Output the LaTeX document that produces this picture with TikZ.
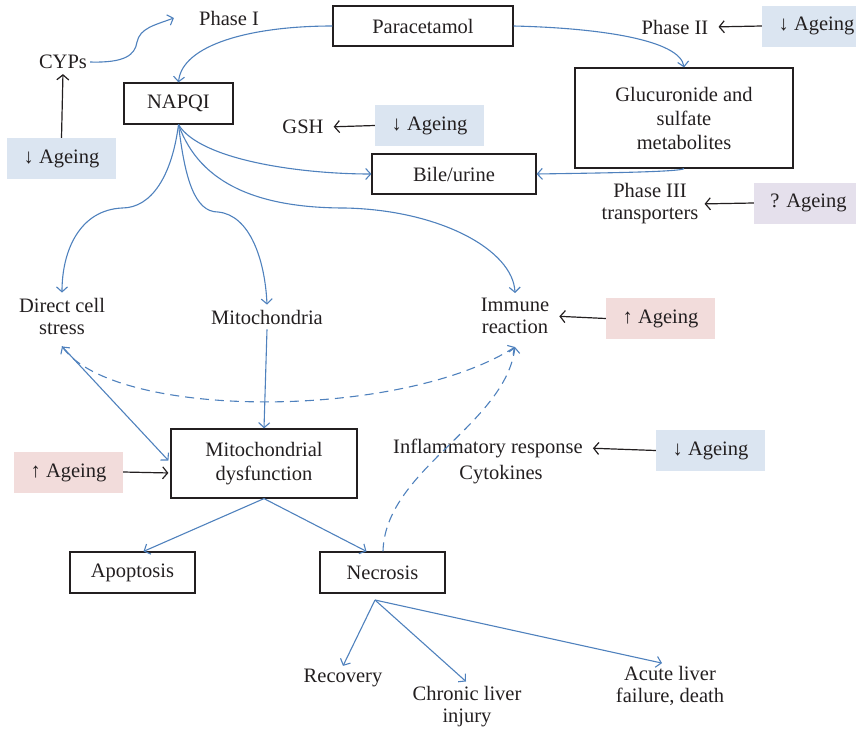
\documentclass[tikz,border=0pt]{standalone}
\usepackage{fontspec}
\setmainfont{Liberation Serif}
\usetikzlibrary{arrows.meta}
\definecolor{lblue}{HTML}{4F81BD}
\definecolor{boxblue}{HTML}{DBE5F1}
\definecolor{boxpink}{HTML}{F2DCDB}
\definecolor{boxlav}{HTML}{E5E0EC}
\definecolor{ink}{HTML}{231F20}
\newcommand{\fsA}{\fontsize{20.5}{22}\selectfont}
\newcommand{\fsB}{\fontsize{20.5}{24}\selectfont}
\tikzset{
  every node/.style={font=\fsA, text=ink, inner sep=3pt},
  stepbox/.style={draw=ink, line width=1.2pt, minimum width=#1, font=\fsB, align=center, inner sep=0pt},
  agebox/.style={fill=#1, minimum width=109pt, minimum height=41pt, inner sep=0pt},
  flow/.style={draw=lblue, line width=1.1pt, -{Straight Barb[length=5pt,width=11pt,line width=1.1pt]}},
  flowb/.style={draw=lblue, line width=1.1pt, dashed, dash pattern=on 9pt off 6pt, {Straight Barb[length=5pt,width=11pt,line width=1.1pt]}-{Straight Barb[length=5pt,width=11pt,line width=1.1pt]}},
  flowd/.style={draw=lblue, line width=1.1pt, dash pattern=on 9pt off 6pt, -{Straight Barb[length=5pt,width=11pt,line width=1.1pt]}},
  inh/.style={draw=ink, line width=1.2pt, shorten >=7pt, -{Straight Barb[length=5pt,width=12pt,line width=1.2pt]}},
}
\begin{document}
\begin{tikzpicture}[x=1pt,y=-1pt]
\useasboundingbox (0,0) rectangle (856,731);
% boxes
\node[stepbox=180pt, minimum height=40pt] (par) at (423,26) {Paracetamol};
\node[stepbox=109pt, minimum height=41pt] (napqi) at (178.5,103.5) {NAPQI};
\node[stepbox=164pt, minimum height=40pt] (bile) at (454,174) {Bile/urine};
\node[stepbox=218pt, minimum height=100pt] (glu) at (684,118) {Glucuronide and\\sulfate\\metabolites};
\node[stepbox=186pt, minimum height=69pt] (mdf) at (264,463.5) {Mitochondrial\\dysfunction};
\node[stepbox=125pt, minimum height=41pt] (apo) at (132.5,572.5) {Apoptosis};
\node[stepbox=125pt, minimum height=41pt] (nec) at (382.5,572.5) {Necrosis};
% ageing boxes
\node[agebox=boxblue] (ageA) at (816.5,26) {\char"2193\ Ageing};
\node[agebox=boxblue] (ageB) at (61.5,158.5) {\char"2193\ Ageing};
\node[agebox=boxblue] (ageC) at (429.5,125.5) {\char"2193\ Ageing};
\node[agebox=boxlav] (ageD) at (808.5,203) {? Ageing};
\node[agebox=boxpink] (ageE) at (660.5,318.5) {\char"2191\ Ageing};
\node[agebox=boxpink] (ageF) at (68.5,472.5) {\char"2191\ Ageing};
\node[agebox=boxblue] (ageG) at (710.5,450.5) {\char"2193\ Ageing};
% text labels
\node (p1) at (229,18) {Phase I};
\node (p2) at (675,27) {Phase II};
\node (cyps) at (63,62) {CYPs};
\node (gsh) at (303,127) {GSH};
\node[align=center] (p3) at (650,204) {Phase III\\transporters};
\node[align=center, inner sep=5pt] (dcs) at (62,316) {Direct cell\\stress};
\node[inner sep=5pt] (mito) at (267,317) {Mitochondria};
\node[align=center, inner sep=5pt] (ir) at (515,316) {Immune\\reaction};
\node (infl) at (488,448) {Inflammatory response};
\node (cyt) at (501,475) {Cytokines};
\node (rec) at (343,678) {Recovery};
\node[align=center] (chr) at (467,707) {Chronic liver\\injury};
\node[align=center] (acu) at (670,686) {Acute liver\\failure, death};
% ageing arrows (black)
\draw[inh] (ageA.west) -- (p2.east);
\draw[inh, shorten >=2pt] (ageB.north) -- (cyps.south);
\draw[inh] (ageC.west) -- (gsh.east);
\draw[inh] (ageD.west) -- ([xshift=-4pt]p3.east);
\draw[inh] (ageE.west) -- ([xshift=-2pt]ir.east);
\draw[inh, shorten >=2pt] ([yshift=0.5pt]ageF.east) -- ([yshift=-9.5pt]mdf.west);
\draw[inh] (ageG.west) -- (infl.east);
% blue flow arrows
\draw[flow] (cyps.east) .. controls (125,63) and (135,55) .. (137,42) .. controls (140,28) and (155,25) .. ([xshift=-22pt]p1.west);
\draw[flow] (par.west) .. controls (250,26) and (182,45) .. (napqi.north);
\draw[flow] (par.east) .. controls (600,28) and (680,40) .. (glu.north);
\draw[flow] (glu.south) .. controls (680,172) and (600,173) .. (bile.east);
\draw[flow] (napqi.south) .. controls (200,160) and (300,174) .. (bile.west);
\draw[flow] (napqi.south) .. controls (172,175) and (152,208) .. (122,208) .. controls (80,210) and (62,250) .. (dcs.north);
\draw[flow] (napqi.south) .. controls (185,180) and (195,212) .. (218,212) .. controls (250,215) and (265,260) .. (mito.north);
\draw[flow] (napqi.south) .. controls (200,185) and (260,208) .. (345,208) .. controls (440,210) and (513,250) .. (ir.north);
\draw[flow] (mito.south) -- (mdf.north);
\draw[flow] ([yshift=-7pt]dcs.south) -- ([xshift=-2pt,yshift=3pt]mdf.west);
\draw[flowb] ([yshift=-7pt]dcs.south) .. controls (115,420) and (400,420) .. ([yshift=-8pt]ir.south);
\draw[flowd] ([xshift=0.5pt]nec.north) .. controls (385,470) and (505,425) .. ([yshift=-8pt]ir.south);
\draw[flow] (mdf.south) -- ([xshift=11pt]apo.north);
\draw[flow] (mdf.south) -- ([xshift=-16pt]nec.north);
\coordinate (nb) at (375,600);
\draw[flow] (nb) -- (rec.north);
\draw[flow] (nb) -- ([xshift=-1pt,yshift=2pt]chr.north);
\draw[flow] (nb) -- ([xshift=-8pt]acu.north);
\end{tikzpicture}
\end{document}
